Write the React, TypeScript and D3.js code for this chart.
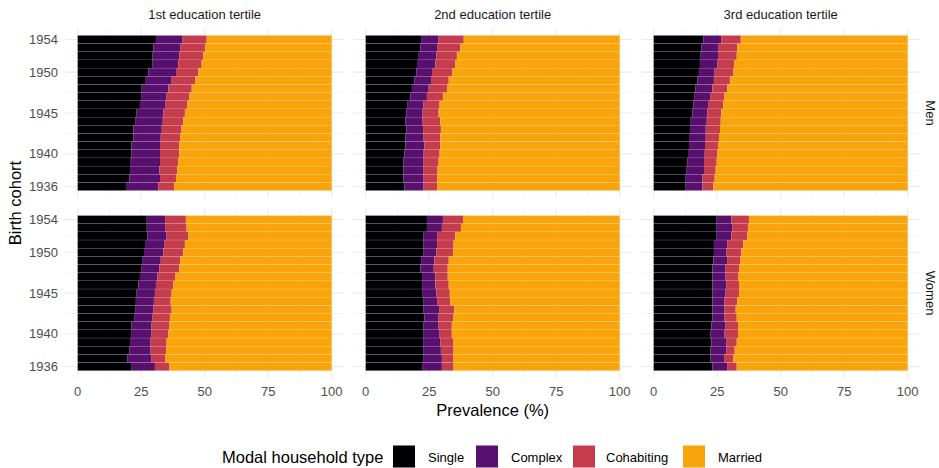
import React from "react";
import * as d3 from "d3";

// ---------- data ----------
const cohorts = [1936, 1937, 1938, 1939, 1940, 1941, 1942, 1943, 1944, 1945, 1946, 1947, 1948, 1949, 1950, 1951, 1952, 1953, 1954];
const householdTypes = ["Single", "Complex", "Cohabiting", "Married"];
const tertiles = ["1st education tertile", "2nd education tertile", "3rd education tertile"];
const sexes = ["Men", "Women"];
const xTicks = [0, 25, 50, 75, 100];
const xMinor = [12.5, 37.5, 62.5, 87.5];
const yTicks = [1936, 1940, 1945, 1950, 1954];
const yMinor = [1938, 1942.5, 1947.5, 1952];

// Men, 1st tertile (1936 -> 1954)
const menT1Single = [19.0, 20.3, 20.6, 20.6, 21.2, 21.2, 21.9, 21.9, 22.6, 23.2, 24.5, 25.2, 25.2, 26.5, 27.8, 29.5, 29.5, 29.8, 30.8];
const menT1Complex = [12.7, 12.1, 11.5, 11.8, 11.2, 11.2, 10.8, 11.2, 10.9, 10.5, 9.9, 9.8, 10.5, 10.5, 10.9, 10.1, 10.5, 10.5, 10.5];
const menT1Cohab = [6.2, 6.3, 7.1, 7.2, 7.6, 7.6, 7.6, 7.8, 8.1, 8.5, 8.8, 9.0, 9.2, 9.2, 8.8, 9.2, 9.5, 9.8, 9.5];
const menT1Married = [62.1, 61.3, 60.8, 60.4, 60.0, 60.0, 59.7, 59.1, 58.4, 57.8, 56.8, 56.0, 55.1, 53.8, 52.5, 51.2, 50.5, 49.9, 49.2];

// Men, 2nd tertile
const menT2Single = [15.3, 14.9, 14.9, 14.9, 15.2, 15.6, 15.6, 16.0, 15.6, 16.0, 16.3, 17.6, 18.2, 19.1, 19.9, 20.2, 20.9, 21.5, 21.8];
const menT2Complex = [7.5, 7.9, 7.9, 7.9, 7.6, 7.5, 7.2, 6.6, 6.6, 6.4, 6.5, 6.5, 6.6, 6.6, 6.2, 7.2, 6.9, 6.6, 6.9];
const menT2Cohab = [5.3, 5.3, 5.5, 5.9, 6.3, 6.3, 6.6, 7.0, 7.2, 6.3, 6.3, 6.3, 7.2, 7.0, 7.9, 7.9, 8.1, 9.2, 9.9];
const menT2Married = [71.9, 71.9, 71.7, 71.3, 70.9, 70.6, 70.6, 70.4, 70.6, 71.3, 70.9, 69.6, 68.0, 67.3, 66.0, 64.7, 64.1, 62.7, 61.4];

// Men, 3rd tertile
const menT3Single = [12.6, 12.6, 13.0, 13.2, 13.5, 13.9, 13.9, 14.3, 14.6, 15.2, 15.6, 15.9, 16.5, 17.2, 17.8, 18.2, 18.5, 18.7, 19.5];
const menT3Complex = [6.6, 6.6, 6.8, 6.6, 6.6, 6.3, 6.6, 6.2, 6.3, 5.9, 5.8, 6.5, 6.6, 6.5, 6.2, 6.9, 6.8, 6.6, 7.1];
const menT3Cohab = [4.3, 4.8, 4.6, 5.0, 5.0, 5.1, 5.2, 5.6, 5.5, 5.5, 6.0, 5.3, 5.9, 6.3, 7.4, 6.5, 7.4, 7.6, 7.7];
const menT3Married = [76.5, 76.0, 75.6, 75.2, 74.9, 74.7, 74.3, 73.9, 73.6, 73.4, 72.6, 72.3, 71.0, 70.0, 68.6, 68.4, 67.3, 67.1, 65.7];

// Women, 1st tertile
const womenT1Single = [21.0, 19.5, 20.3, 20.6, 21.0, 21.2, 22.2, 22.6, 22.9, 23.2, 23.9, 24.5, 25.2, 25.6, 26.1, 26.5, 27.4, 27.2, 27.2];
const womenT1Complex = [9.4, 9.6, 8.2, 8.1, 8.1, 7.9, 7.3, 7.2, 7.1, 7.2, 6.9, 6.9, 6.9, 7.1, 7.6, 7.5, 7.6, 7.2, 7.2];
const womenT1Cohab = [5.7, 5.3, 6.3, 6.3, 6.6, 7.0, 6.8, 7.2, 6.6, 6.6, 6.9, 6.9, 7.9, 7.6, 7.9, 8.2, 8.6, 8.5, 8.2];
const womenT1Married = [63.9, 65.6, 65.2, 65.0, 64.3, 63.9, 63.7, 63.0, 63.4, 63.0, 62.3, 61.7, 60.0, 59.7, 58.4, 57.8, 56.4, 57.1, 57.4];

// Women, 2nd tertile
const womenT2Single = [22.2, 22.6, 22.6, 22.6, 22.6, 22.8, 23.1, 22.8, 22.6, 22.2, 22.2, 22.2, 21.5, 21.8, 22.6, 22.8, 22.8, 24.1, 24.1];
const womenT2Complex = [7.8, 7.4, 7.0, 6.8, 6.5, 5.9, 5.6, 6.3, 5.5, 5.6, 5.2, 5.2, 5.3, 5.2, 5.2, 5.3, 5.3, 5.9, 6.3];
const womenT2Cohab = [4.6, 4.4, 5.0, 5.0, 4.8, 5.2, 5.7, 5.8, 5.2, 5.3, 5.3, 4.9, 5.5, 5.7, 6.6, 6.5, 7.2, 7.5, 7.9];
const womenT2Married = [65.4, 65.6, 65.4, 65.6, 66.1, 66.1, 65.6, 65.1, 66.7, 66.9, 67.3, 67.7, 67.7, 67.3, 65.6, 65.4, 64.7, 62.5, 61.7];

// Women, 3rd tertile
const womenT3Single = [23.1, 22.4, 22.4, 22.7, 22.4, 22.7, 23.1, 23.1, 23.1, 23.1, 23.1, 23.1, 23.1, 23.5, 23.7, 23.7, 24.8, 24.8, 24.8];
const womenT3Complex = [5.8, 5.3, 6.3, 6.0, 5.5, 5.6, 4.8, 4.8, 4.8, 5.2, 5.6, 5.2, 5.2, 5.4, 5.0, 5.2, 5.8, 6.1, 5.8];
const womenT3Cohab = [3.8, 3.7, 3.2, 4.0, 5.3, 4.9, 4.8, 4.4, 5.0, 5.3, 4.9, 4.9, 5.3, 5.3, 5.8, 6.4, 6.3, 6.2, 6.9];
const womenT3Married = [67.3, 68.6, 68.1, 67.3, 66.8, 66.8, 67.3, 67.7, 67.1, 66.4, 66.4, 66.8, 66.4, 65.8, 65.5, 64.7, 63.1, 62.9, 62.5];

const panelSeries = [
  [
    [menT1Single, menT1Complex, menT1Cohab, menT1Married],
    [menT2Single, menT2Complex, menT2Cohab, menT2Married],
    [menT3Single, menT3Complex, menT3Cohab, menT3Married],
  ],
  [
    [womenT1Single, womenT1Complex, womenT1Cohab, womenT1Married],
    [womenT2Single, womenT2Complex, womenT2Cohab, womenT2Married],
    [womenT3Single, womenT3Complex, womenT3Cohab, womenT3Married],
  ],
];

// ---------- styling / layout ----------
const COLORS = ["#000004", "#57106E", "#C53D4D", "#FAA40C"];
const W = 939;
const H = 468;
const FONT = "'Liberation Sans', Arial, Helvetica, sans-serif";
const panelLefts = [65, 353, 641];
const panelWidth = 279.4;
const panelTops = [28.1, 208.2];
const panelHeight = 169.8;
const SMALL = 13;
const BIG = 16.5;

function Panel({ row, col }: { row: number; col: number }) {
  const x = d3.scaleLinear().domain([-5, 105]).range([panelLefts[col], panelLefts[col] + panelWidth]);
  const y = d3
    .scaleLinear()
    .domain([1934.605, 1955.395])
    .range([panelTops[row] + panelHeight, panelTops[row]]);
  const step = Math.abs(y(1) - y(0));
  const barH = step * 0.975;
  const series = panelSeries[row][col];
  const table = cohorts.map((c, i) => {
    const o: any = { cohort: c };
    householdTypes.forEach((k, j) => (o[k] = series[j][i]));
    return o;
  });
  const stacked = d3.stack().keys(householdTypes)(table);
  const [x0, x1] = x.range();
  const [y1, y0] = y.range();
  return (
    <g>
      {xMinor.map((t) => (
        <line key={"xm" + t} x1={x(t)} x2={x(t)} y1={y0} y2={y1} stroke="#F0F0F0" strokeWidth={0.6} />
      ))}
      {yMinor.map((t) => (
        <line key={"ym" + t} x1={x0} x2={x1} y1={y(t)} y2={y(t)} stroke="#F0F0F0" strokeWidth={0.6} />
      ))}
      {xTicks.map((t) => (
        <line key={"xM" + t} x1={x(t)} x2={x(t)} y1={y0} y2={y1} stroke="#EBEBEB" strokeWidth={1.1} />
      ))}
      {yTicks.map((t) => (
        <line key={"yM" + t} x1={x0} x2={x1} y1={y(t)} y2={y(t)} stroke="#EBEBEB" strokeWidth={1.1} />
      ))}
      {stacked.map((s, si) => (
        <g key={s.key} fill={COLORS[si]}>
          {s.map((d, i) => (
            <rect
              key={i}
              x={x(d[0])}
              width={Math.max(0, x(d[1]) - x(d[0]))}
              y={y(cohorts[i]) - barH / 2}
              height={barH}
            />
          ))}
        </g>
      ))}
      {row === 1 &&
        xTicks.map((t) => (
          <text
            key={"xl" + t}
            x={x(t)}
            y={y1 + 13.5}
            textAnchor="middle"
            dominantBaseline="central"
            fontSize={SMALL}
            fill="#4D4D4D"
          >
            {t}
          </text>
        ))}
      {col === 0 &&
        yTicks.map((t) => (
          <text
            key={"yl" + t}
            x={x0 - 7}
            y={y(t)}
            textAnchor="end"
            dominantBaseline="central"
            fontSize={SMALL}
            fill="#4D4D4D"
          >
            {t}
          </text>
        ))}
      {row === 0 && (
        <text
          x={(x0 + x1) / 2}
          y={14}
          textAnchor="middle"
          dominantBaseline="central"
          fontSize={SMALL}
          fill="#1A1A1A"
        >
          {tertiles[col]}
        </text>
      )}
      {col === 2 && (
        <text
          transform={`translate(${930},${(y0 + y1) / 2}) rotate(90)`}
          textAnchor="middle"
          dominantBaseline="central"
          fontSize={SMALL}
          fill="#1A1A1A"
        >
          {sexes[row]}
        </text>
      )}
    </g>
  );
}

const legendKeyX = [393, 476, 573, 683];
const legendLabelX = [428, 511, 606, 718];

export default function App() {
  return (
    <svg
      width={W}
      height={H}
      viewBox={`0 0 ${W} ${H}`}
      style={{ position: "absolute", left: 0, top: 0, display: "block", background: "#fff" }}
      fontFamily={FONT}
    >
      <rect width={W} height={H} fill="#fff" />
      {[0, 1].map((r) => [0, 1, 2].map((c) => <Panel key={`${r}-${c}`} row={r} col={c} />))}
      <text
        x={(panelLefts[0] + panelLefts[2] + panelWidth) / 2}
        y={410}
        textAnchor="middle"
        dominantBaseline="central"
        fontSize={BIG}
        fill="#000"
      >
        Prevalence (%)
      </text>
      <text
        transform={`translate(15,${(panelTops[0] + panelTops[1] + panelHeight) / 2}) rotate(-90)`}
        textAnchor="middle"
        dominantBaseline="central"
        fontSize={BIG}
        fill="#000"
      >
        Birth cohort
      </text>
      <text x={222} y={457} dominantBaseline="central" fontSize={BIG} fill="#000">
        Modal household type
      </text>
      {householdTypes.map((k, i) => (
        <g key={k}>
          <rect x={legendKeyX[i]} y={445.5} width={22} height={22} fill={COLORS[i]} />
          <text x={legendLabelX[i]} y={457} dominantBaseline="central" fontSize={SMALL} fill="#000">
            {k}
          </text>
        </g>
      ))}
    </svg>
  );
}
